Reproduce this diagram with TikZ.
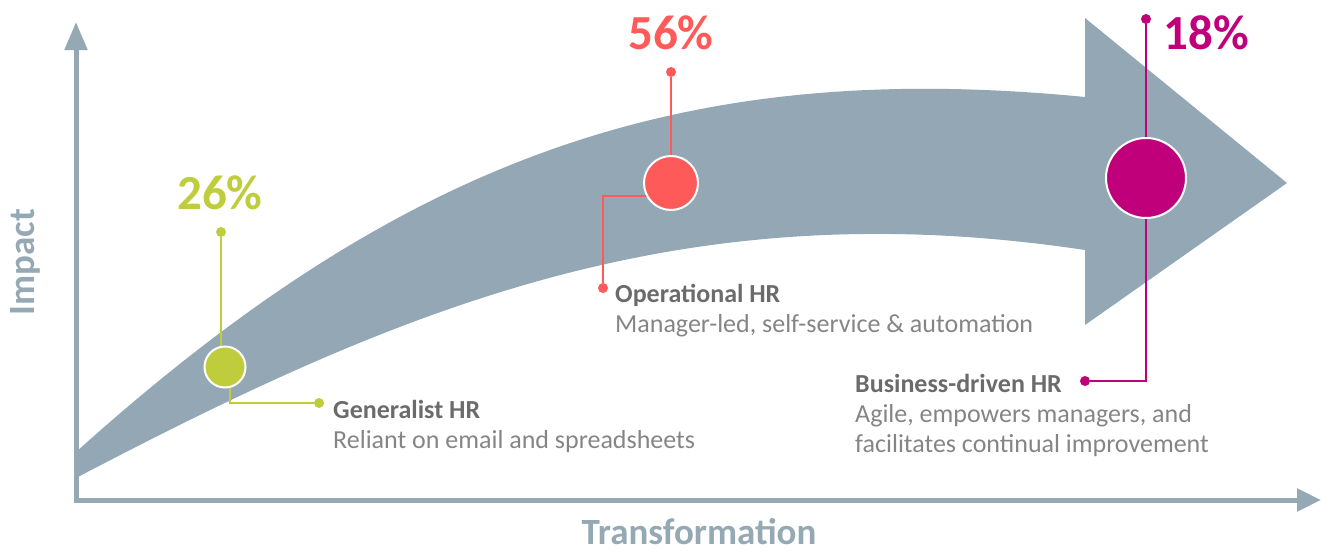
\documentclass[tikz,border=0pt]{standalone}
\usepackage{fontspec}
\setmainfont{Carlito}
\usetikzlibrary{arrows.meta}
\definecolor{axisgray}{HTML}{95A9B5}
\definecolor{arrowgray}{HTML}{93A8B4}
\definecolor{genHR}{HTML}{BFCD3C}
\definecolor{opHR}{HTML}{FF5A5A}
\definecolor{busHR}{HTML}{C0007A}
\definecolor{titlegray}{HTML}{6B6B6B}
\definecolor{bodygray}{HTML}{858585}
\tikzset{
  leader/.style={line width=2.5pt},
  pindot/.style={circle, inner sep=0pt, minimum size=10pt},
  stage/.style={circle, draw=white, line width=2pt, inner sep=0pt},
  pct/.style={font=\fontsize{49}{49}\selectfont\bfseries},
  desc/.style={align=left, inner sep=0pt, text=bodygray, font=\fontsize{26}{30}\selectfont},
  axislabel/.style={text=axisgray, font=\fontsize{37}{37}\selectfont\bfseries}
}
\begin{document}
\begin{tikzpicture}[x=1pt, y=-1pt]
    \useasboundingbox (0,0) rectangle (1330,552);
    % First the axes
    \coordinate (ytip) at (76,22);
    \coordinate (xtip) at (1321,500);
    \draw[axisgray, line width=5pt, -{Triangle[length=28pt,width=22pt]}] (76,503) -- (ytip);
    \draw[axisgray, line width=5pt, -{Triangle[length=24pt,width=22pt]}] (74,500) -- (xtip);
    \node[axislabel] (xlabel) at (699,532) {Transformation};
    \node[axislabel, rotate=90] (ylabel) at (25,262) {Impact};

    % Then the big curved arrow
    \fill[arrowgray] (76,452) .. controls (406,155) and (685,58) .. (1085,97)
        -- (1085,18) -- (1287,183) -- (1085,325) -- (1085,250)
        .. controls (685,190) and (406,305) .. (76,478) -- cycle;

    % Leader dots
    \node[pindot, fill=genHR] (g1) at (221,232) {};
    \node[pindot, fill=genHR] (g2) at (319,403) {};
    \node[pindot, fill=opHR] (o1) at (671,72) {};
    \node[pindot, fill=opHR] (o2) at (603,288) {};
    \node[pindot, fill=busHR] (b1) at (1146,19) {};
    \node[pindot, fill=busHR] (b2) at (1085,381) {};

    % Leaders, drawn before the stage circles
    \draw[leader, genHR] (g1) -- (221,366);
    \draw[leader, genHR] (230,380) |- (g2);
    \draw[leader, opHR] (o1) -- (671,182);
    \draw[leader, opHR] (660,196) -| (o2);
    \draw[leader, busHR] (b1) -- (1146,178) |- (b2);

    % Stage circles on top
    \node[stage, fill=genHR, minimum size=41pt] (gen) at (225,367) {};
    \node[stage, fill=opHR, minimum size=54pt] (op) at (671,183) {};
    \node[stage, fill=busHR, minimum size=80pt] (bus) at (1146,178) {};

    % Percentages
    \node[pct, text=genHR] (genpct) at (220,193) {26\%};
    \node[pct, text=opHR] (oppct) at (671,33) {56\%};
    \node[pct, text=busHR, anchor=west] (buspct) at (1160,33) {18\%};

    % Descriptions (anchored at the last line)
    \node[desc, anchor=base west] (gentxt) at (333,448) {\textcolor{titlegray}{\bfseries Generalist HR}\\Reliant on email and spreadsheets};
    \node[desc, anchor=base west] (optxt) at (615,332) {\textcolor{titlegray}{\bfseries Operational HR}\\Manager-led, self-service \& automation};
    \node[desc, anchor=base west] (bustxt) at (855,452) {\textcolor{titlegray}{\bfseries Business-driven HR}\\Agile, empowers managers, and\\facilitates continual improvement};
\end{tikzpicture}
\end{document}
